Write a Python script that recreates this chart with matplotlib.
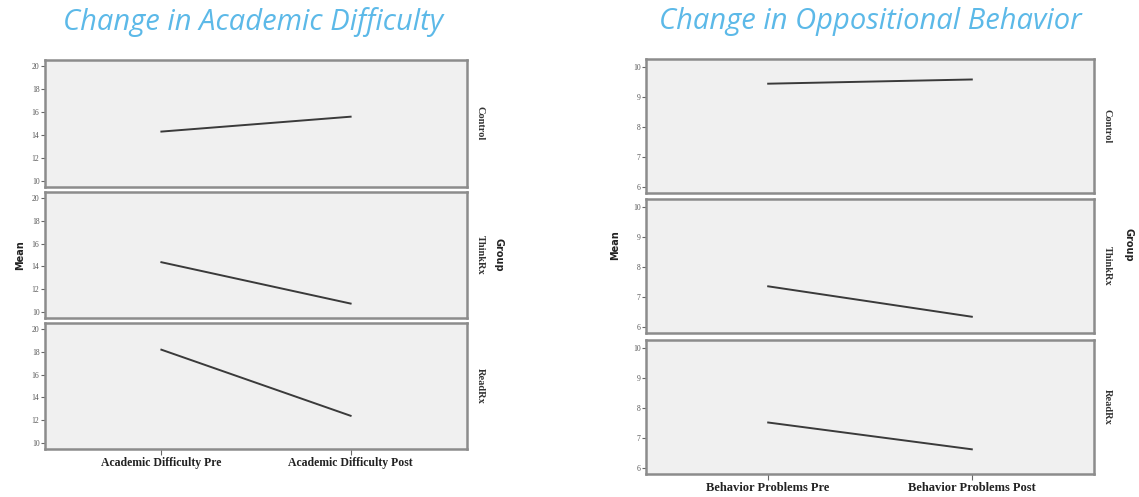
import matplotlib
matplotlib.use('Agg')
import matplotlib.pyplot as plt

# data
groups = ['Control', 'ThinkRx', 'ReadRx']
acad_labels = ['Academic Difficulty Pre', 'Academic Difficulty Post']
acad_pre = [14.3, 14.37, 18.17]
acad_post = [15.59, 10.76, 12.4]
acad_ticks = [10, 12, 14, 16, 18, 20]

behav_labels = ['Behavior Problems Pre', 'Behavior Problems Post']
behav_pre = [9.43, 7.35, 7.51]
behav_post = [9.57, 6.34, 6.62]
behav_ticks = [6, 7, 8, 9, 10]

W, H = 1139, 497
fig = plt.figure(figsize=(W / 100, H / 100), dpi=100)
fig.patch.set_facecolor('white')

title_color = '#5cb9e8'


def px_axes(x0, x1, y0, y1):
    return fig.add_axes([x0 / W, 1 - y1 / H, (x1 - x0) / W, (y1 - y0) / H])


def draw_block(x0, x1, rows, pre, post, labels, ticks, ylim, xlim, xfs):
    for i, (ya, yb) in enumerate(rows):
        ax = px_axes(x0, x1, ya, yb)
        ax.set_facecolor('#f0f0f0')
        ax.plot([0, 1], [pre[i], post[i]], color='#3a3a3a', lw=1.4)
        ax.set_xlim(*xlim)
        ax.set_ylim(*ylim)
        ax.set_yticks(ticks)
        ax.set_yticklabels([str(t) for t in ticks], fontsize=5.5,
                           family='Liberation Serif', color='#555555')
        ax.tick_params(axis='y', length=3, width=0.8, color='#666666', pad=1)
        for s in ax.spines.values():
            s.set_color('#8c8c8c')
            s.set_linewidth(1.8)
        ax.text(1.02, 0.5, groups[i], transform=ax.transAxes, rotation=270,
                ha='left', va='center', fontsize=7.5, fontweight='bold',
                family='Liberation Serif', color='#333333')
        if i == len(rows) - 1:
            ax.set_xticks([0, 1])
            ax.set_xticklabels(labels, fontsize=xfs, fontweight='bold',
                               family='Liberation Serif', color='#222222')
            ax.tick_params(axis='x', length=4, width=0.8, color='#666666', pad=2)
        else:
            ax.set_xticks([])


draw_block(45, 467, [(60, 187), (192, 318), (323, 449)],
           acad_pre, acad_post, acad_labels, acad_ticks,
           (9.5, 20.5), (-0.615, 1.615), 8.5)
draw_block(646, 1094, [(59, 193), (199, 333), (340, 474)],
           behav_pre, behav_post, behav_labels, behav_ticks,
           (5.8, 10.25), (-0.6, 1.6), 9)

# titles
fig.text(253 / W, 1 - 22 / H, 'Change in Academic Difficulty', ha='center',
         va='center', fontsize=21, style='italic', family='Open Sans',
         color=title_color)
fig.text(870 / W, 1 - 22 / H, 'Change in Oppositional Behavior', ha='center',
         va='center', fontsize=21, style='italic', family='Open Sans',
         color=title_color)

# Mean / Group labels
for x, y in [(20, 255), (615, 245)]:
    fig.text(x / W, 1 - y / H, 'Mean', rotation=90, ha='center', va='center',
             fontsize=7, fontweight='bold', color='#222222')
for x, y in [(498, 255), (1128, 245)]:
    fig.text(x / W, 1 - y / H, 'Group', rotation=270, ha='center', va='center',
             fontsize=7, fontweight='bold', color='#222222')

fig.savefig('out.png', dpi=100, facecolor='white')
